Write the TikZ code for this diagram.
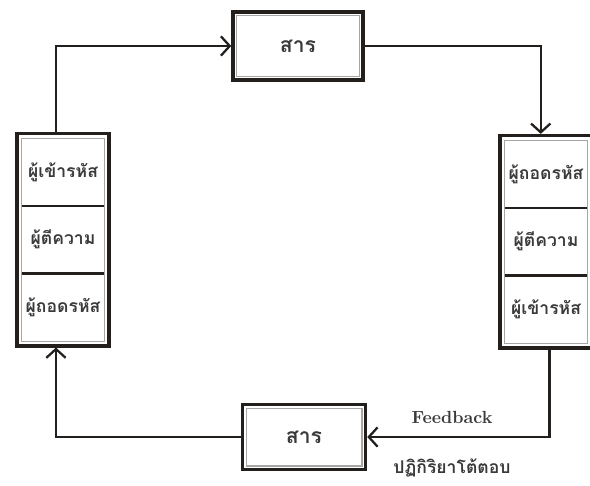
\documentclass[tikz,border=0pt]{standalone}
\usepackage{fontspec}
\newfontfamily\thaifont[Script=Thai]{Loma}
\usetikzlibrary{arrows,arrows.meta,positioning,fit}
\definecolor{ink}{HTML}{231F1C}
\definecolor{txt}{HTML}{3A3A3A}
\tikzset{
  msgbox/.style={draw=ink,line width=2pt,minimum width=2.5cm,minimum height=1.3cm,font=\thaifont\bfseries\large,text=txt},
  cell/.style={minimum width=1.64cm,minimum height=1.34cm,inner sep=0pt,font=\thaifont\bfseries,text=txt},
  innerline/.style={draw=gray!70,line width=0.6pt},
  frame/.style={draw=ink,line width=2pt,inner sep=0.08cm},
  divider/.style={draw=ink,line width=1.3pt},
  flow/.style={-{Straight Barb[length=5pt,width=11pt,line width=1.3pt]},draw=ink,line width=1.4pt}
}
\begin{document}
\begin{tikzpicture}[x=0.02cm,y=-0.02cm]
\useasboundingbox (0,0) rectangle (590,485);
% message boxes
\node (top) [msgbox,minimum width=2.6cm,minimum height=1.36cm] at (298,46) {สาร};
\draw[innerline] ([shift={(3pt,-3pt)}]top.north west) rectangle ([shift={(-3pt,3pt)}]top.south east);
\node (bot) [msgbox,minimum width=2.46cm] at (304,437) {สาร};
\draw[innerline] ([shift={(3pt,-3pt)}]bot.north west) rectangle ([shift={(-3pt,3pt)}]bot.south east);
%
% left stack
\node (l1) [cell] at (63,172) {ผู้เข้ารหัส};
\node (l2) [cell,below=0pt of l1] {ผู้ตีความ};
\node (l3) [cell,below=0pt of l2] {ผู้ถอดรหัส};
\node (lin) [innerline,fit=(l1)(l3),inner sep=0pt] {};
\node (lout) [frame,fit=(lin)] {};
\draw[divider] (l1.south west) -- (l1.south east);
\draw[divider] (l2.south west) -- (l2.south east);
%
% right stack
\node (r1) [cell] at (546,174) {ผู้ถอดรหัส};
\node (r2) [cell,below=0pt of r1] {ผู้ตีความ};
\node (r3) [cell,below=0pt of r2] {ผู้เข้ารหัส};
\node (rin) [innerline,fit=(r1)(r3),inner sep=0pt] {};
\node (rout) [frame,fit=(rin)] {};
\draw[divider] (r1.south west) -- (r1.south east);
\draw[divider] (r2.south west) -- (r2.south east);
%
% connectors
\draw[flow] ([xshift=-4pt]lout.north) |- (top.west);
\draw[flow] (top.east) -| ([xshift=-3pt]rout.north);
\draw[flow] ([xshift=2pt]rout.south) |- (bot.east);
\draw[flow] (bot.west) -| ([xshift=-4pt]lout.south);
%
\node (fb) [font=\bfseries,text=txt] at (452,417) {Feedback};
\node (fbth) [font=\thaifont\bfseries,text=txt] at (452,468) {ปฏิกิริยาโต้ตอบ};
\end{tikzpicture}
\end{document}
